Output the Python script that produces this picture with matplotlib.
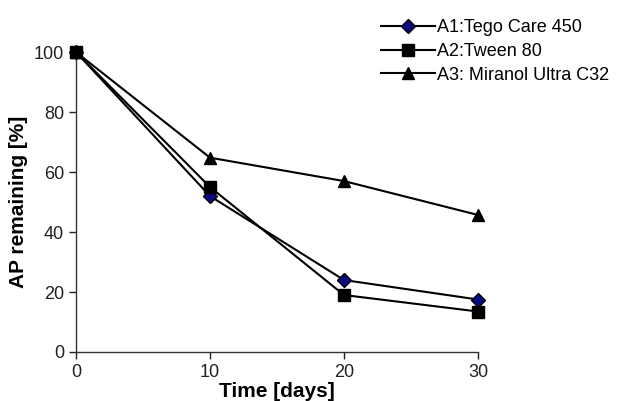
import matplotlib.pyplot as plt

plt.rcParams['font.family'] = ['Liberation Sans', 'DejaVu Sans']

# Data
days = [0, 10, 20, 30]
tego_care = [100, 52, 24, 17.5]
tween_80 = [100, 55, 19, 13.5]
miranol = [100, 64.8, 57, 45.7]

fig = plt.figure(figsize=(6.21, 4.01), dpi=100)
ax = fig.add_axes([0.1224, 0.1222, 0.6473, 0.7478])

ax.plot(days, tego_care, color='black', lw=1.5, marker='D', markersize=7,
        markerfacecolor='#0a0a80', markeredgecolor='black', clip_on=False,
        label='A1:Tego Care 450', zorder=3)
ax.plot(days, tween_80, color='black', lw=1.5, marker='s', markersize=8,
        markerfacecolor='black', clip_on=False, label='A2:Tween 80', zorder=3)
ax.plot(days, miranol, color='black', lw=1.5, marker='^', markersize=9,
        markerfacecolor='black', clip_on=False, label='A3: Miranol Ultra C32', zorder=3)

ax.set_xlim(0, 30)
ax.set_ylim(0, 100)
ax.set_xticks([0, 10, 20, 30])
ax.set_yticks([0, 20, 40, 60, 80, 100])
ax.tick_params(direction='out', length=5, width=1, labelsize=13, colors='#222222')
for side in ['top', 'right']:
    ax.spines[side].set_visible(False)
for side in ['left', 'bottom']:
    ax.spines[side].set_linewidth(1)
    ax.spines[side].set_color('#333333')

ax.set_xlabel('Time [days]', fontsize=15, fontweight='bold', labelpad=1)
ax.set_ylabel('AP remaining [%]', fontsize=15, fontweight='bold', labelpad=4)

fig.legend(loc='upper left', bbox_to_anchor=(0.587, 0.993), frameon=False,
           fontsize=13, handlelength=3.0, handletextpad=0.1, labelspacing=0.38)

fig.savefig('out.png', dpi=100)
